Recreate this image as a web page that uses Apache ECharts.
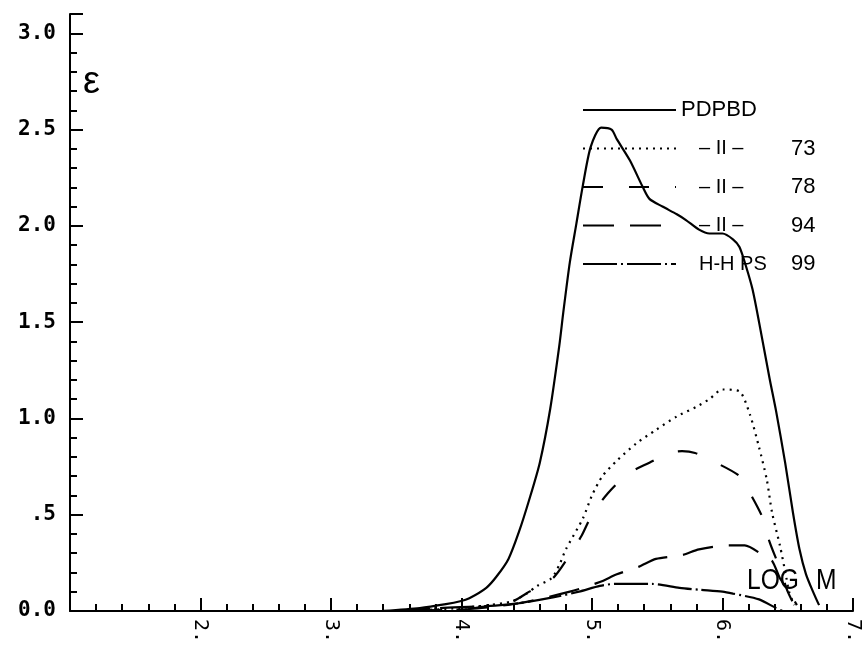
<!DOCTYPE html>
<html>
<head>
<meta charset="utf-8">
<title>PDPBD – ε vs LOG M</title>
<script src="https://cdn.jsdelivr.net/npm/echarts@6/dist/echarts.min.js"></script>
<style>
  html, body { margin: 0; padding: 0; background: #fff; }
  #chart { width: 863px; height: 646px; }
</style>
</head>
<body>
<div id="chart"></div>
<script>
// Axis tick labels (x at 1..7, y at every 0.5)
const xTickLabels = ['', '2.', '3.', '4.', '5.', '6.', '7.'];
const yTickLabels = ['0.0', '.5', '1.0', '1.5', '2.0', '2.5', '3.0'];

// Legend entries: series name, ditto mark / prefix, number column
const seriesNames = ['PDPBD', '73', '78', '94', '99'];
const legendMid = ['', '– II –', '– II –', '– II –', 'H-H PS'];

// [LOG M, ε] pairs for each sample
const pdpbd = [
  [3.40, 0.00], [3.68, 0.015], [3.88, 0.035], [3.99, 0.05], [4.06, 0.066],
  [4.19, 0.12], [4.27, 0.18], [4.36, 0.27], [4.44, 0.41], [4.52, 0.58],
  [4.60, 0.77], [4.68, 1.05], [4.75, 1.38], [4.78, 1.55], [4.83, 1.81],
  [4.88, 2.01], [4.93, 2.21], [4.99, 2.41], [5.07, 2.51], [5.15, 2.50],
  [5.19, 2.45], [5.29, 2.34], [5.39, 2.20], [5.44, 2.14], [5.54, 2.10],
  [5.65, 2.06], [5.72, 2.03], [5.82, 1.98], [5.90, 1.96], [6.00, 1.96],
  [6.08, 1.93], [6.13, 1.89], [6.18, 1.79], [6.23, 1.67], [6.28, 1.50],
  [6.36, 1.21], [6.41, 1.04], [6.48, 0.77], [6.54, 0.51], [6.59, 0.32],
  [6.64, 0.19], [6.70, 0.09], [6.74, 0.03]
];
const s73 = [
  [3.60, 0.00], [3.98, 0.015], [4.21, 0.03], [4.39, 0.05], [4.50, 0.09],
  [4.58, 0.13], [4.69, 0.17], [4.75, 0.24], [4.80, 0.32], [4.93, 0.48],
  [5.00, 0.60], [5.08, 0.70], [5.19, 0.78], [5.34, 0.87], [5.49, 0.94],
  [5.65, 1.01], [5.80, 1.06], [5.90, 1.10], [6.00, 1.15], [6.13, 1.14],
  [6.21, 1.02], [6.28, 0.85], [6.34, 0.68], [6.38, 0.51], [6.44, 0.34],
  [6.49, 0.17], [6.51, 0.10], [6.55, 0.03]
];
const s78 = [
  [3.70, 0.00], [4.10, 0.015], [4.39, 0.05], [4.52, 0.10], [4.70, 0.17],
  [4.80, 0.26], [4.92, 0.39], [5.00, 0.50], [5.12, 0.61], [5.27, 0.71],
  [5.44, 0.77], [5.59, 0.82], [5.69, 0.83], [5.79, 0.82], [5.95, 0.77],
  [6.13, 0.70], [6.22, 0.60], [6.31, 0.48], [6.36, 0.36], [6.44, 0.22],
  [6.50, 0.10], [6.55, 0.03]
];
const s94 = [
  [3.60, 0.00], [4.06, 0.01], [4.44, 0.04], [4.83, 0.10], [5.06, 0.15],
  [5.19, 0.19], [5.36, 0.23], [5.49, 0.27], [5.69, 0.29], [5.82, 0.32],
  [6.04, 0.34], [6.17, 0.34], [6.31, 0.29], [6.38, 0.26], [6.44, 0.17],
  [6.51, 0.10], [6.57, 0.03]
];
const s99 = [
  [3.50, 0.00], [3.83, 0.015], [4.19, 0.025], [4.44, 0.04], [4.70, 0.07],
  [4.90, 0.10], [5.06, 0.13], [5.17, 0.14], [5.29, 0.14], [5.46, 0.14],
  [5.67, 0.12], [5.82, 0.11], [6.00, 0.10], [6.08, 0.09], [6.28, 0.06],
  [6.41, 0.015], [6.46, 0.00]
];

const seriesData = [pdpbd, s73, s78, s94, s99];
const dashes = ['solid', [2, 5], [20, 26], [31, 16], [34, 4, 2, 4]];
const widths = [2.2, 2.2, 2.2, 2.2, 2.2];

const INK = '#000';
const plotFont = 'Liberation Sans, Arial, sans-serif';
const monoFont = 'DejaVu Sans Mono, Liberation Mono, monospace';

const chart = echarts.init(document.getElementById('chart'), null, { renderer: 'canvas' });

chart.setOption({
  backgroundColor: '#fff',
  animation: false,
  grid: { left: 70, right: 10, top: 14, bottom: 26, containLabel: false },
  xAxis: {
    type: 'value', min: 1, max: 7, interval: 1,
    axisLine: { show: true, onZero: false, lineStyle: { color: INK, width: 2 } },
    axisTick: { show: true, inside: true, length: 13, lineStyle: { color: INK, width: 2 } },
    minorTick: { show: true, splitNumber: 5, length: 7, lineStyle: { color: INK, width: 2 } },
    splitLine: { show: false },
    axisLabel: {
      rotate: -90, margin: 8, color: INK, fontFamily: monoFont, fontSize: 20,
      formatter: v => xTickLabels[Math.round(v) - 1] || ''
    }
  },
  yAxis: {
    type: 'value', min: 0, max: 3.1, interval: 0.5,
    axisLine: { show: true, onZero: false, lineStyle: { color: INK, width: 2 } },
    axisTick: { show: true, inside: true, length: 13, lineStyle: { color: INK, width: 2 } },
    minorTick: { show: true, splitNumber: 5, length: 7, lineStyle: { color: INK, width: 2 } },
    splitLine: { show: false },
    axisLabel: {
      margin: 14, color: INK, fontFamily: monoFont, fontSize: 21, fontWeight: 'bold',
      formatter: v => {
        const i = Math.round(v / 0.5);
        return Math.abs(v - i * 0.5) < 1e-6 ? (yTickLabels[i] || '') : '';
      }
    }
  },
  legend: {
    orient: 'vertical', left: 582, top: 99, padding: 0,
    itemWidth: 93, itemHeight: 22, itemGap: 16.5,
    selectedMode: false,
    data: seriesNames,
    itemStyle: { color: 'rgba(0,0,0,0)', borderWidth: 0, opacity: 0 },
    textStyle: {
      color: INK, fontFamily: plotFont, fontSize: 22,
      rich: {
        s: { width: 18, fontSize: 22 },
        t: { width: 92, fontSize: 20, fontFamily: plotFont },
        n: { fontSize: 22, fontFamily: plotFont }
      }
    },
    formatter: name => {
      const i = seriesNames.indexOf(name);
      return legendMid[i] ? '{s| }{t|' + legendMid[i] + '}{n|' + name + '}' : name;
    }
  },
  graphic: [
    { type: 'text', left: 83, top: 64, style: { text: 'ε', font: '38px ' + plotFont, fill: INK } },
    { type: 'text', left: 747, top: 566, scaleX: 0.82, style: { text: 'LOG', font: '30px ' + plotFont, fill: INK } },
    { type: 'text', left: 816, top: 566, scaleX: 0.82, style: { text: 'M', font: '30px ' + plotFont, fill: INK } }
  ],
  series: seriesData.map((d, i) => ({
    name: seriesNames[i],
    type: 'line',
    data: d,
    smooth: 0.25,
    symbol: 'none',
    showSymbol: false,
    lineStyle: { color: INK, width: widths[i], type: dashes[i] },
    itemStyle: { color: INK },
    emphasis: { disabled: true }
  }))
});
</script>
</body>
</html>
